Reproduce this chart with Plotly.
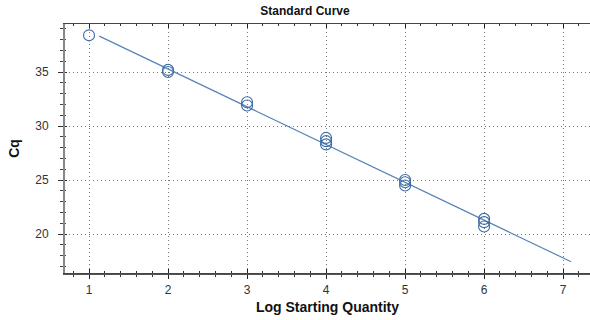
import numpy as np
import plotly.graph_objects as go

# Data
log_qty = [1, 2, 2, 3, 3, 4, 4, 4, 5, 5, 5, 6, 6, 6]
cq = [38.4, 35.2, 35.0, 32.2, 31.9, 28.9, 28.6, 28.3, 25.0, 24.8, 24.5, 21.4, 21.1, 20.7]
fit_x_span = [1.13, 7.1]

x_ticks = [1, 2, 3, 4, 5, 6, 7]
y_ticks = [20, 25, 30, 35]

slope, intercept = np.polyfit(log_qty, cq, 1)
fit_y = [slope * v + intercept for v in fit_x_span]

marker_color = "#3e6ca6"
line_color = "#5683b8"
font_family = "Liberation Sans, Arial, sans-serif"
grid_dash = "1px,3px"

fig = go.Figure()
fig.add_trace(go.Scatter(
    x=fit_x_span, y=fit_y, mode="lines",
    line=dict(color=line_color, width=1.2), showlegend=False, hoverinfo="skip"))
fig.add_trace(go.Scatter(
    x=log_qty, y=cq, mode="markers",
    marker=dict(symbol="circle-open", size=11, color=marker_color, line=dict(width=1.1)),
    showlegend=False))
# invisible trace on overlay axes so they are rendered
fig.add_trace(go.Scatter(x=[log_qty[0]], y=[cq[0]], xaxis="x2", yaxis="y2",
                         mode="markers", marker=dict(opacity=0), showlegend=False,
                         hoverinfo="skip"))

xr = [0.696, 7.34]
yr = [16.39, 39.45]

fig.update_layout(
    width=590, height=320,
    margin=dict(l=65, r=0, t=24, b=47),
    paper_bgcolor="white", plot_bgcolor="white",
    font=dict(family=font_family, size=12, color="#333333"),
    title=dict(text="<b>Standard Curve</b>", x=305/590, xref="container", xanchor="center",
               y=1 - 10.5/320, yref="container", yanchor="middle",
               font=dict(size=12, color="#111111", family=font_family)),
    xaxis=dict(
        range=xr, tickvals=x_ticks, ticks="outside", ticklen=4, tickwidth=1.2, tickcolor="#222222",
        minor=dict(dtick=0.2, tick0=0, ticks="outside", ticklen=2, tickwidth=1, tickcolor="#333333",
                   showgrid=False),
        showline=True, linecolor="#555555", linewidth=1.5,
        showgrid=True, gridcolor="#777777", griddash=grid_dash, gridwidth=1,
        zeroline=False, ticklabelstandoff=1,
        title=dict(text="<b>Log Starting Quantity</b>", standoff=6,
                   font=dict(size=14, color="#111111", family=font_family)),
    ),
    yaxis=dict(
        range=yr, tickvals=y_ticks, ticks="outside", ticklen=5, tickwidth=1.2, tickcolor="#333333",
        minor=dict(dtick=1, tick0=0, ticks="outside", ticklen=3, tickwidth=1, tickcolor="#444444",
                   showgrid=False),
        showline=True, linecolor="#888888", linewidth=2,
        showgrid=True, gridcolor="#777777", griddash=grid_dash, gridwidth=1,
        zeroline=False, ticklabelstandoff=7,
        title=dict(text="<b>Cq</b>", standoff=12,
                   font=dict(size=14, color="#111111", family=font_family)),
    ),
    xaxis2=dict(
        range=xr, overlaying="x", anchor="y2", tickvals=x_ticks, showticklabels=False,
        ticks="inside", ticklen=4, tickwidth=1.2, tickcolor="#222222",
        minor=dict(dtick=0.2, tick0=0, ticks="inside", ticklen=2, tickwidth=1, tickcolor="#333333"),
        showline=True, mirror="ticks", linecolor="#444444", linewidth=1.2,
        showgrid=False, zeroline=False,
    ),
    yaxis2=dict(
        range=yr, overlaying="y", anchor="x2", tickvals=y_ticks, showticklabels=False,
        ticks="inside", ticklen=2, tickwidth=1.2, tickcolor="#333333",
        minor=dict(dtick=1, tick0=0, ticks="inside", ticklen=1, tickwidth=1, tickcolor="#444444"),
        showline=False, showgrid=False, zeroline=False,
    ),
)

fig.write_html("out.html", config={"displayModeBar": False},
               post_script="document.body.style.margin='0';")
